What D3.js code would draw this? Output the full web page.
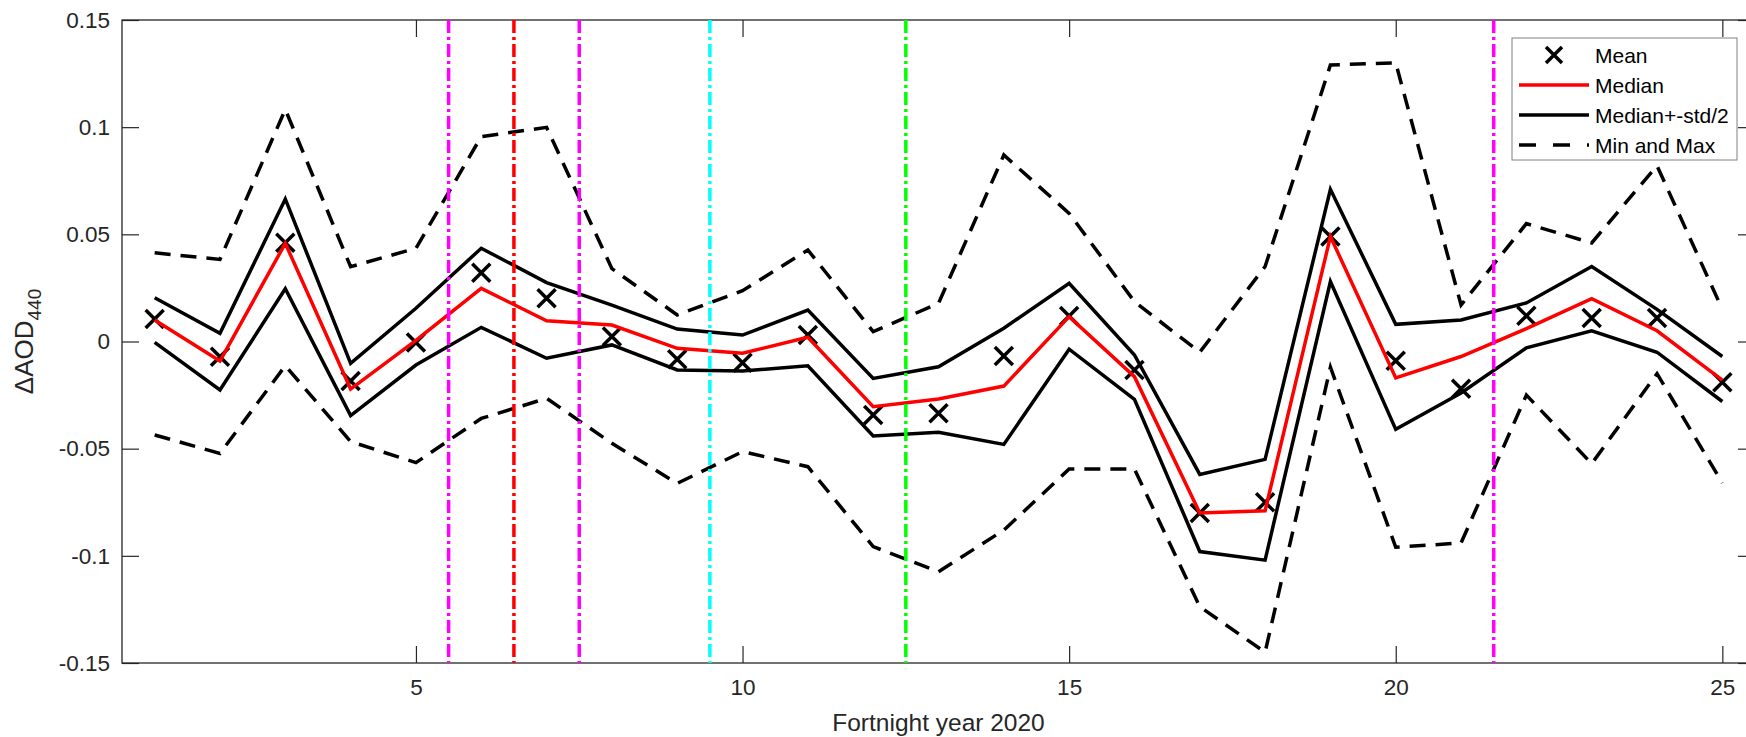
<!DOCTYPE html>
<html>
<head>
<meta charset="utf-8">
<script src="https://cdn.jsdelivr.net/npm/d3@7"></script>
<style>
  html, body { margin: 0; padding: 0; background: #fff; }
  svg { display: block; font-family: "Liberation Sans", Arial, Helvetica, sans-serif; }
</style>
</head>
<body>
<div id="viz"></div>
<script>
// Fortnight index (x) and the six statistics
const FORTNIGHTS = [1, 2, 3, 4, 5, 6, 7, 8, 9, 10, 11, 12, 13, 14, 15, 16, 17, 18, 19, 20, 21, 22, 23, 24, 25];

const MEAN = [0.0105, -0.0071, 0.0461, -0.0184, -0.0005, 0.0321, 0.0202, 0.0023, -0.0083, -0.0099,
  0.003, -0.0343, -0.0335, -0.0068, 0.0119, -0.0133, -0.080, -0.075, 0.049, -0.009,
  -0.022, 0.012, 0.011, 0.011, -0.019];

const MEDIAN = [0.0100, -0.0091, 0.0458, -0.0222, 0.0005, 0.0248, 0.0097, 0.0077, -0.0032, -0.0055,
  0.002, -0.0304, -0.0268, -0.0208, 0.0116, -0.0164, -0.080, -0.079, 0.049, -0.017,
  -0.007, 0.006, 0.020, 0.005, -0.018];

const MEDIAN_PLUS = [0.0204, 0.0038, 0.0665, -0.0102, 0.0155, 0.0435, 0.0275, 0.017, 0.0058, 0.003,
  0.0147, -0.0172, -0.0118, 0.0062, 0.0272, -0.0063, -0.062, -0.055, 0.071, 0.008,
  0.010, 0.018, 0.035, 0.015, -0.007];

const MEDIAN_MINUS = [-0.0004, -0.0226, 0.0246, -0.0346, -0.011, 0.0066, -0.0078, -0.0016, -0.0133, -0.0138,
  -0.0113, -0.0441, -0.0424, -0.048, -0.0036, -0.027, -0.098, -0.102, 0.028, -0.041,
  -0.024, -0.003, 0.005, -0.005, -0.028];

const MAX_VALS = [0.0414, 0.0383, 0.1083, 0.0349, 0.0435, 0.0956, 0.0999, 0.034, 0.0124, 0.0237,
  0.0427, 0.0046, 0.0178, 0.087, 0.0598, 0.0186, -0.005, 0.035, 0.129, 0.130,
  0.017, 0.055, 0.046, 0.082, 0.015];

const MIN_VALS = [-0.0436, -0.0522, -0.0113, -0.0467, -0.0565, -0.0359, -0.0265, -0.0475, -0.0662, -0.0514,
  -0.0584, -0.0957, -0.1074, -0.088, -0.0595, -0.0595, -0.1237, -0.145, -0.012, -0.096,
  -0.094, -0.025, -0.057, -0.015, -0.066];

// Event markers (vertical dash-dot lines)
const EVENT_X = [5.5, 6.5, 7.5, 9.5, 12.5, 21.5];
const EVENT_COLORS = ["#FF00FF", "#FF0000", "#FF00FF", "#00FFFF", "#00FF00", "#FF00FF"];

const X_TICKS = [5, 10, 15, 20, 25];
const Y_TICKS = [-0.15, -0.1, -0.05, 0, 0.05, 0.1, 0.15];

const LEGEND_LABELS = ["Mean", "Median", "Median+-std/2", "Min and Max"];

const W = 1746, H = 737;
const PLOT = { left: 122, right: 1755, top: 20, bottom: 663 };
const AXIS_COLOR = "#262626";
const TICK_LEN = 17;
const LW = 3.5;
const DASH = "16,10";
const DASH_DOT = "13,4,3,4";

const svg = d3.select("#viz").append("svg").attr("width", W).attr("height", H);

const x = d3.scaleLinear().domain([0.5, 25.5]).range([PLOT.left, PLOT.right]);
const y = d3.scaleLinear().domain([-0.15, 0.15]).range([PLOT.bottom, PLOT.top]);

svg.append("defs").append("clipPath").attr("id", "plot-clip")
  .append("rect")
  .attr("x", PLOT.left).attr("y", PLOT.top)
  .attr("width", PLOT.right - PLOT.left).attr("height", PLOT.bottom - PLOT.top);

const yFormat = d => (d === 0 ? "0" : String(+d.toFixed(2)));

function styleAxis(g) {
  g.select(".domain").remove();
  g.selectAll(".tick line").attr("stroke", AXIS_COLOR).attr("stroke-width", 1.2);
  g.selectAll(".tick text").attr("fill", AXIS_COLOR).attr("font-size", 22.5)
    .attr("font-family", "'Liberation Sans', Arial, Helvetica, sans-serif");
}

// bottom / top / left / right axes, ticks pointing inward as in MATLAB
svg.append("g")
  .attr("transform", `translate(0,${PLOT.bottom})`)
  .call(d3.axisBottom(x).tickValues(X_TICKS).tickSizeInner(-TICK_LEN).tickSizeOuter(0).tickPadding(16))
  .call(styleAxis);

svg.append("g")
  .attr("transform", `translate(0,${PLOT.top})`)
  .call(d3.axisTop(x).tickValues(X_TICKS).tickSizeInner(-TICK_LEN).tickSizeOuter(0).tickFormat(""))
  .call(styleAxis);

svg.append("g")
  .attr("transform", `translate(${PLOT.left},0)`)
  .call(d3.axisLeft(y).tickValues(Y_TICKS).tickSizeInner(-TICK_LEN).tickSizeOuter(0).tickPadding(12).tickFormat(yFormat))
  .call(styleAxis);

svg.append("g")
  .attr("transform", `translate(${PLOT.right},0)`)
  .call(d3.axisRight(y).tickValues(Y_TICKS).tickSizeInner(-TICK_LEN).tickSizeOuter(0).tickFormat(""))
  .call(styleAxis);

// the box
svg.append("rect")
  .attr("x", PLOT.left).attr("y", PLOT.top)
  .attr("width", PLOT.right - PLOT.left).attr("height", PLOT.bottom - PLOT.top)
  .attr("fill", "none").attr("stroke", AXIS_COLOR).attr("stroke-width", 1.3);

const plot = svg.append("g").attr("clip-path", "url(#plot-clip)");

const line = d3.line().x((d, i) => x(FORTNIGHTS[i])).y(d => y(d));

// mean markers
const xMark = (cx, cy, r) => `M${cx - r},${cy - r}L${cx + r},${cy + r}M${cx - r},${cy + r}L${cx + r},${cy - r}`;
plot.append("g").selectAll("path").data(MEAN).join("path")
  .attr("d", (d, i) => xMark(x(FORTNIGHTS[i]), y(d), 9))
  .attr("stroke", "#000").attr("stroke-width", LW).attr("fill", "none");

plot.append("path").datum(MEDIAN).attr("d", line)
  .attr("fill", "none").attr("stroke", "#FF0000").attr("stroke-width", LW);

[MEDIAN_PLUS, MEDIAN_MINUS].forEach(series => {
  plot.append("path").datum(series).attr("d", line)
    .attr("fill", "none").attr("stroke", "#000").attr("stroke-width", LW);
});

[MAX_VALS, MIN_VALS].forEach(series => {
  plot.append("path").datum(series).attr("d", line)
    .attr("fill", "none").attr("stroke", "#000").attr("stroke-width", LW)
    .attr("stroke-dasharray", DASH);
});

plot.append("g").selectAll("line").data(EVENT_X).join("line")
  .attr("x1", d => x(d)).attr("x2", d => x(d))
  .attr("y1", PLOT.top).attr("y2", PLOT.bottom)
  .attr("stroke", (d, i) => EVENT_COLORS[i])
  .attr("stroke-width", LW)
  .attr("stroke-dasharray", DASH_DOT);

// axis labels
svg.append("text")
  .attr("x", (PLOT.left + PLOT.right) / 2).attr("y", 731)
  .attr("text-anchor", "middle").attr("fill", AXIS_COLOR).attr("font-size", 24.5)
  .text("Fortnight year 2020");

const yLabel = svg.append("text")
  .attr("transform", `translate(33,${(PLOT.top + PLOT.bottom) / 2}) rotate(-90)`)
  .attr("text-anchor", "middle").attr("fill", AXIS_COLOR).attr("font-size", 26);
yLabel.append("tspan").text("\u0394AOD");
yLabel.append("tspan").attr("font-size", 19).attr("dy", 8).text("440");

// legend
const legend = svg.append("g");
legend.append("rect")
  .attr("x", 1512).attr("y", 38).attr("width", 225).attr("height", 122)
  .attr("fill", "#fff").attr("stroke", "#808080").attr("stroke-width", 1);

const rowY = i => 55 + i * 30;
const sampleX0 = 1519, sampleX1 = 1589;

legend.append("path")
  .attr("d", xMark((sampleX0 + sampleX1) / 2, rowY(0), 8))
  .attr("stroke", "#000").attr("stroke-width", LW).attr("fill", "none");
legend.append("line")
  .attr("x1", sampleX0).attr("x2", sampleX1).attr("y1", rowY(1)).attr("y2", rowY(1))
  .attr("stroke", "#FF0000").attr("stroke-width", LW);
legend.append("line")
  .attr("x1", sampleX0).attr("x2", sampleX1).attr("y1", rowY(2)).attr("y2", rowY(2))
  .attr("stroke", "#000").attr("stroke-width", LW);
legend.append("line")
  .attr("x1", sampleX0).attr("x2", sampleX1).attr("y1", rowY(3)).attr("y2", rowY(3))
  .attr("stroke", "#000").attr("stroke-width", LW).attr("stroke-dasharray", "17,17");

legend.selectAll("text").data(LEGEND_LABELS).join("text")
  .attr("x", 1595).attr("y", (d, i) => rowY(i))
  .attr("dy", "0.36em").attr("fill", "#000").attr("font-size", 21)
  .text(d => d);
</script>
</body>
</html>
